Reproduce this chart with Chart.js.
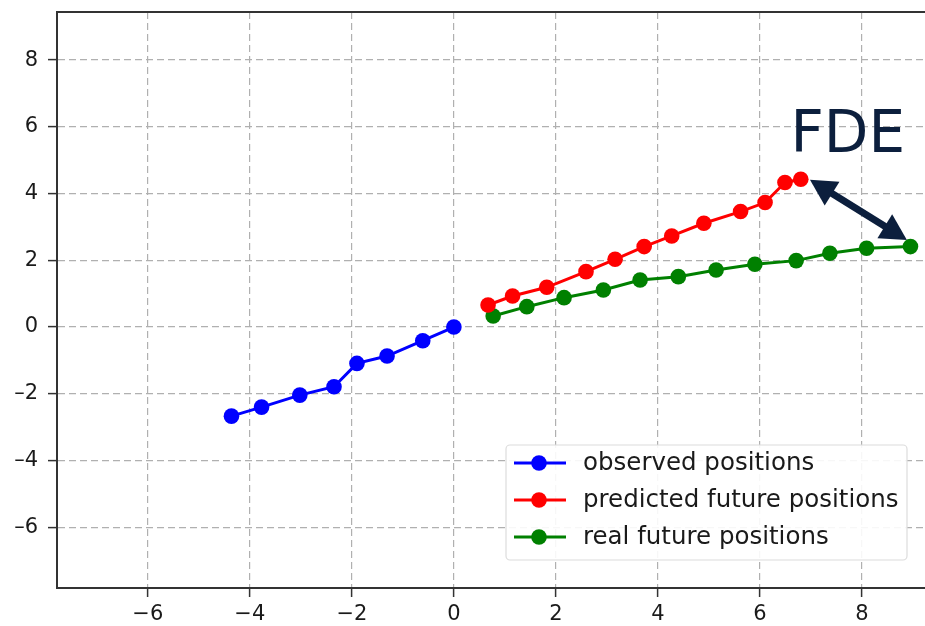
<!DOCTYPE html>
<html>
<head>
<meta charset="utf-8">
<script src="https://cdn.jsdelivr.net/npm/chart.js@4"></script>
<style>
  html, body { margin: 0; padding: 0; background: #fff; overflow: hidden; }
  #wrap { width: 925px; height: 626px; }
</style>
</head>
<body>
<div id="wrap"><canvas id="chart" width="925" height="626"></canvas></div>
<script>
/* trajectory prediction: observed vs predicted vs real future positions */

const OBS_X  = [-4.36, -3.77, -3.02, -2.35, -1.90, -1.31, -0.61, 0.00];
const OBS_Y  = [-2.67, -2.40, -2.04, -1.79, -1.09, -0.87, -0.41, 0.00];
const PRED_X = [0.67, 1.15, 1.82, 2.59, 3.16, 3.73, 4.27, 4.90, 5.62, 6.10, 6.49, 6.80];
const PRED_Y = [0.66, 0.93, 1.19, 1.66, 2.03, 2.41, 2.73, 3.11, 3.46, 3.73, 4.33, 4.43];
const REAL_X = [0.77, 1.43, 2.16, 2.93, 3.65, 4.40, 5.14, 5.90, 6.71, 7.37, 8.09, 8.95];
const REAL_Y = [0.33, 0.61, 0.88, 1.11, 1.41, 1.51, 1.71, 1.88, 1.99, 2.21, 2.36, 2.41];

const X_TICKS = [-6, -4, -2, 0, 2, 4, 6, 8];
const Y_TICKS = [-6, -4, -2, 0, 2, 4, 6, 8];

const LABELS = ['observed positions', 'predicted future positions', 'real future positions'];
const COLORS = ['#0000ff', '#ff0000', '#008000'];

// FDE annotation (data coords)
const ARROW_FROM = [6.98, 4.41];
const ARROW_TO   = [8.88, 2.61];
const FDE_TEXT   = 'FDE';
const FDE_AT     = [7.72, 5.25];

const NAVY = '#0c1f3d';
const FONT = '"DejaVu Sans", sans-serif';

function pts(xs, ys) { return xs.map((x, i) => ({ x, y: ys[i] })); }

function mkDataset(label, data, color) {
  return {
    label, data,
    borderColor: color,
    backgroundColor: color,
    borderWidth: 3,
    pointRadius: 7.8,
    pointHoverRadius: 7.8,
    pointBorderWidth: 0,
    showLine: true,
    tension: 0,
  };
}

function arrowHead(ctx, x, y, ang, len, half) {
  const c = Math.cos(ang), s = Math.sin(ang);
  ctx.beginPath();
  ctx.moveTo(x, y);
  ctx.lineTo(x - len * c + half * s, y - len * s - half * c);
  ctx.lineTo(x - len * c - half * s, y - len * s + half * c);
  ctx.closePath();
  ctx.fill();
}

const overlay = {
  id: 'overlay',
  afterDraw(chart) {
    const { ctx, chartArea: a, scales: { x, y } } = chart;
    ctx.save();

    // top spine
    ctx.strokeStyle = '#333';
    ctx.lineWidth = 2;
    ctx.beginPath();
    ctx.moveTo(a.left - 1, a.top);
    ctx.lineTo(a.right, a.top);
    ctx.stroke();

    // FDE double arrow
    const x1 = x.getPixelForValue(ARROW_FROM[0]), y1 = y.getPixelForValue(ARROW_FROM[1]);
    const x2 = x.getPixelForValue(ARROW_TO[0]),   y2 = y.getPixelForValue(ARROW_TO[1]);
    const ang = Math.atan2(y2 - y1, x2 - x1);
    const hl = 26;
    ctx.strokeStyle = NAVY;
    ctx.fillStyle = NAVY;
    ctx.lineWidth = 7;
    ctx.beginPath();
    ctx.moveTo(x1 + hl * 0.8 * Math.cos(ang), y1 + hl * 0.8 * Math.sin(ang));
    ctx.lineTo(x2 - hl * 0.8 * Math.cos(ang), y2 - hl * 0.8 * Math.sin(ang));
    ctx.stroke();
    arrowHead(ctx, x2, y2, ang, hl, 14);
    arrowHead(ctx, x1, y1, ang + Math.PI, hl, 14);

    // FDE label
    ctx.font = '58px ' + FONT;
    ctx.textAlign = 'center';
    ctx.textBaseline = 'alphabetic';
    ctx.fillText(FDE_TEXT, x.getPixelForValue(FDE_AT[0]), y.getPixelForValue(FDE_AT[1]));

    // legend box (lower right)
    const bx = 506, by = 445, bw = 401, bh = 115;
    ctx.fillStyle = 'rgba(255,255,255,0.9)';
    ctx.strokeStyle = '#dcdcdc';
    ctx.lineWidth = 1.2;
    ctx.beginPath();
    ctx.roundRect(bx, by, bw, bh, 4);
    ctx.fill();
    ctx.stroke();

    ctx.font = '24.5px ' + FONT;
    ctx.textAlign = 'left';
    ctx.textBaseline = 'middle';
    chart.data.datasets.forEach((ds, i) => {
      const ry = by + 18 + i * 37;
      ctx.strokeStyle = ds.borderColor;
      ctx.lineWidth = 3;
      ctx.beginPath();
      ctx.moveTo(bx + 8, ry);
      ctx.lineTo(bx + 60, ry);
      ctx.stroke();
      ctx.fillStyle = ds.borderColor;
      ctx.beginPath();
      ctx.arc(bx + 33, ry, 7.8, 0, Math.PI * 2);
      ctx.fill();
      ctx.fillStyle = '#1a1a1a';
      ctx.fillText(ds.label, bx + 77, ry + 1);
    });

    ctx.restore();
  },
};

const axisCommon = {
  type: 'linear',
  grid: { color: '#b0b0b0', lineWidth: 1.2, tickLength: 9, tickColor: '#333', tickWidth: 1.5 },
  border: { display: true, color: '#333', width: 2, dash: [7, 4] },
};

new Chart(document.getElementById('chart'), {
  type: 'scatter',
  data: {
    datasets: [
      mkDataset(LABELS[0], pts(OBS_X, OBS_Y),   COLORS[0]),
      mkDataset(LABELS[1], pts(PRED_X, PRED_Y), COLORS[1]),
      mkDataset(LABELS[2], pts(REAL_X, REAL_Y), COLORS[2]),
    ],
  },
  options: {
    responsive: false,
    animation: false,
    layout: { autoPadding: false, padding: { top: 12, right: 0, left: 0, bottom: 0 } },
    plugins: { legend: { display: false }, tooltip: { enabled: false } },
    scales: {
      x: {
        ...axisCommon,
        min: -7.78, max: 9.235,
        afterBuildTicks: s => { s.ticks = X_TICKS.map(v => ({ value: v })); },
        afterFit: s => { s.height = 38; s.paddingLeft = 0; s.paddingRight = 0; },
        ticks: {
          color: '#1a1a1a', font: { family: FONT, size: 21 }, padding: 5,
          maxRotation: 0, autoSkip: false,
          callback: v => (v < 0 ? '\u2212' + Math.abs(v) : String(v)),
        },
      },
      y: {
        ...axisCommon,
        min: -7.82, max: 9.44,
        afterBuildTicks: s => { s.ticks = Y_TICKS.map(v => ({ value: v })); },
        afterFit: s => { s.width = 57; s.paddingTop = 0; s.paddingBottom = 0; },
        ticks: {
          color: '#1a1a1a', font: { family: FONT, size: 21 }, padding: 10,
          autoSkip: false,
          callback: v => (v < 0 ? '\u2013' + Math.abs(v) : String(v)),
        },
      },
    },
  },
  plugins: [overlay],
});
</script>
</body>
</html>
